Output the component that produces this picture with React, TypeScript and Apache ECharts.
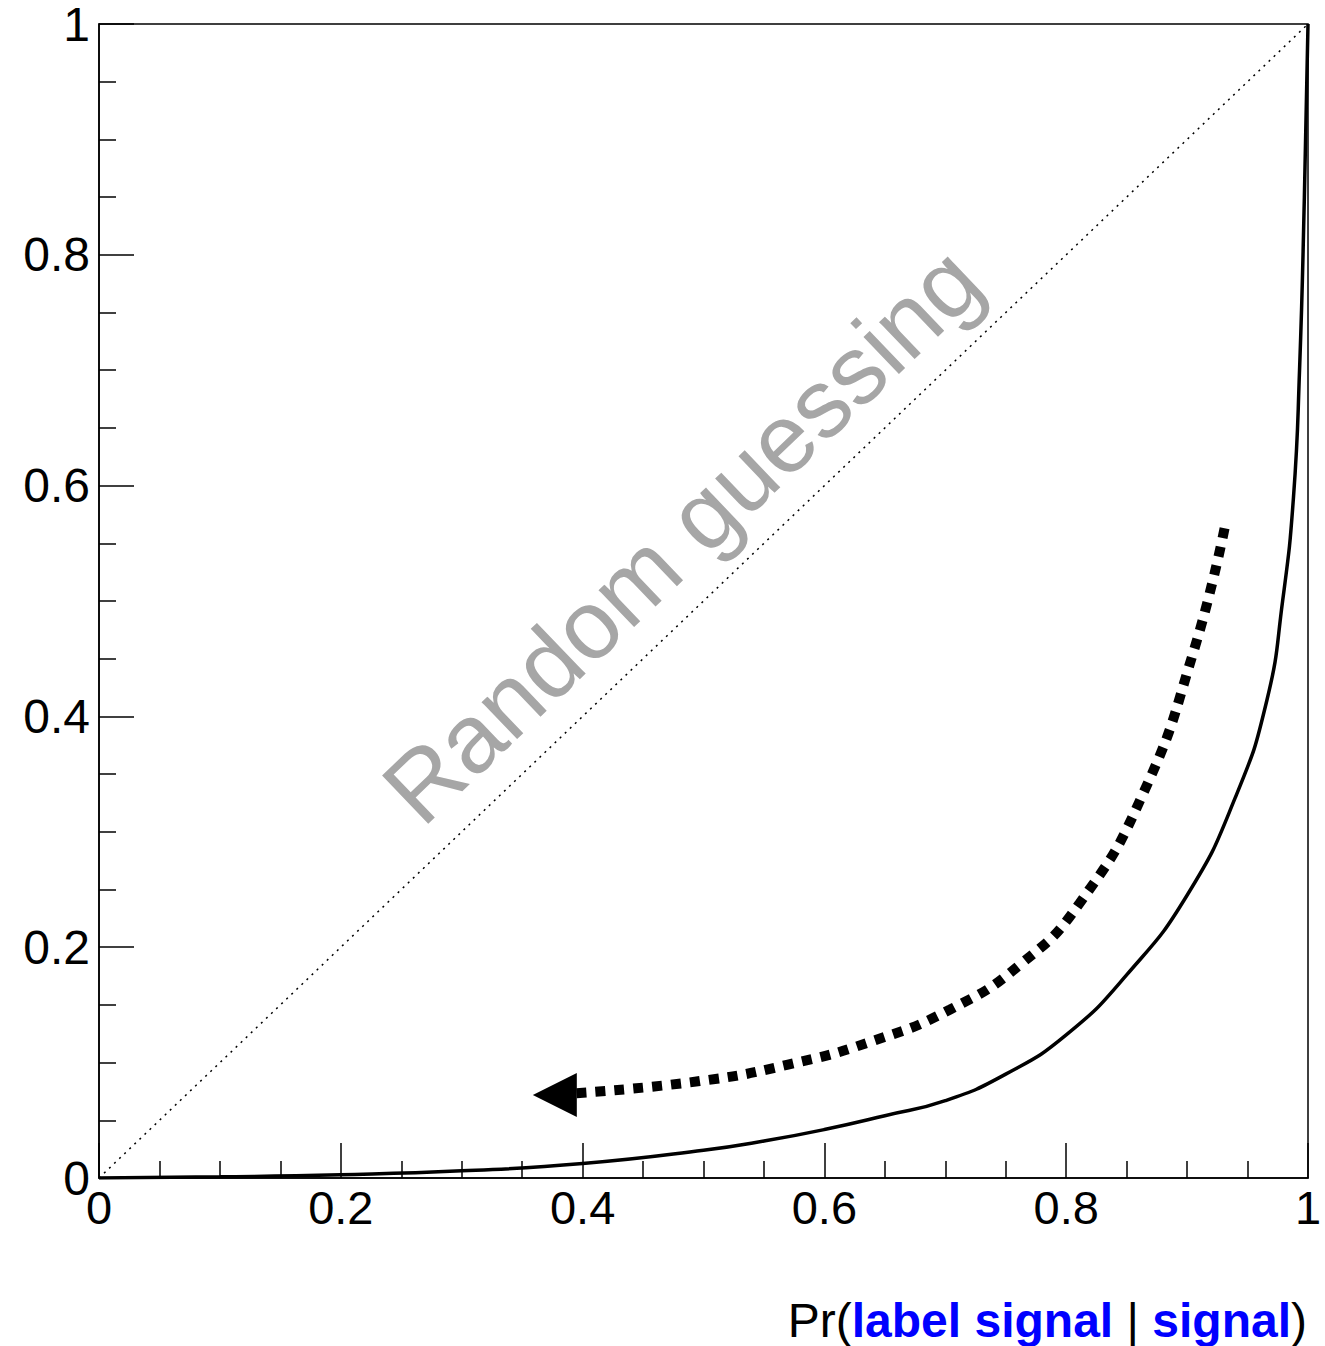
import React, { useEffect, useRef } from "react";
import * as echarts from "echarts";

const rocX = [0, 0.1, 0.2, 0.3, 0.4, 0.5, 0.55, 0.6, 0.65, 0.7, 0.75, 0.8, 0.85, 0.9, 0.94, 0.966, 0.979, 0.988, 0.993, 0.997, 1];
const rocY = [0, 0.001, 0.0028, 0.0062, 0.0125, 0.024, 0.032, 0.042, 0.054, 0.067, 0.09, 0.124, 0.176, 0.245, 0.33, 0.414, 0.5, 0.59, 0.7, 0.85, 1];

const arrowX = [0.931, 0.905, 0.864, 0.811, 0.762, 0.704, 0.638, 0.569, 0.497, 0.395];
const arrowY = [0.563, 0.455, 0.334, 0.238, 0.185, 0.146, 0.118, 0.098, 0.084, 0.0735];
const arrowHead = [0.377, 0.072];

const diagonal = [[0, 0], [1, 1]];

const FONT = "'Liberation Sans', Arial, Helvetica, sans-serif";

export default function App() {
  const ref = useRef<HTMLDivElement>(null);
  useEffect(() => {
    if (!ref.current) return;
    const chart = echarts.init(ref.current, null, { renderer: "svg" });
    const axisCommon = {
      type: "value" as const,
      min: 0,
      max: 1,
      interval: 0.2,
      axisLine: { show: true, onZero: false, lineStyle: { color: "#000", width: 1.5 } },
      axisTick: { show: true, inside: true, length: 35, lineStyle: { color: "#000", width: 1.5 } },
      minorTick: { show: true, splitNumber: 4, length: 17, lineStyle: { color: "#000", width: 1.5 } },
      splitLine: { show: false },
      minorSplitLine: { show: false },
    };
    chart.setOption({
      animation: false,
      backgroundColor: "#fff",
      grid: {
        left: 99,
        top: 24,
        right: 17,
        bottom: 168,
        show: true,
        borderColor: "#000",
        borderWidth: 1.5,
        backgroundColor: "transparent",
      },
      xAxis: {
        ...axisCommon,
        axisLabel: {
          fontSize: 47,
          color: "#000",
          fontFamily: FONT,
          margin: 6,
          formatter: (v: number) => String(Math.round(v * 10) / 10),
        },
      },
      yAxis: {
        ...axisCommon,
        axisLabel: {
          fontSize: 48,
          lineHeight: 40,
          padding: [4, 0, 0, 0],
          color: "#000",
          fontFamily: FONT,
          margin: 9,
          formatter: (v: number) => String(Math.round(v * 10) / 10),
        },
      },
      series: [
        {
          type: "line",
          data: diagonal,
          symbol: "none",
          lineStyle: { color: "#000", width: 1.5, type: [2, 5] },
          z: 2,
        },
        {
          type: "line",
          data: rocX.map((x, i) => [x, rocY[i]]),
          symbol: "none",
          smooth: 0.5,
          lineStyle: { color: "#000", width: 3.5 },
          z: 3,
        },
        {
          type: "line",
          data: arrowX.map((x, i) => [x, arrowY[i]]),
          symbol: "none",
          smooth: 0.5,
          lineStyle: { color: "#000", width: 10, type: [10, 9], cap: "butt" },
          z: 4,
        },
        {
          type: "scatter",
          data: [arrowHead],
          symbol: "triangle",
          symbolRotate: 90,
          symbolSize: [44, 44],
          itemStyle: { color: "#000", opacity: 1 },
          z: 5,
        },
      ],
      graphic: [
        {
          type: "text",
          x: 682,
          y: 535,
          rotation: (43.7 * Math.PI) / 180,
          style: {
            text: "Random guessing",
            fontSize: 97,
            fontFamily: FONT,
            fill: "#a6a6a6",
            textAlign: "center",
            textVerticalAlign: "middle",
          },
          z: 10,
        },
        {
          type: "text",
          x: 1307,
          y: 1320,
          style: {
            text: "Pr({b|label signal} | {b|signal})",
            fontSize: 48,
            fontFamily: FONT,
            fill: "#000",
            textAlign: "right",
            textVerticalAlign: "middle",
            rich: {
              b: { fontSize: 48, fontFamily: FONT, fontWeight: "bold", fill: "#0000ff" },
            },
          },
          z: 10,
        },
      ],
    });
    return () => chart.dispose();
  }, []);
  return (
    <div
      ref={ref}
      style={{ position: "absolute", left: 0, top: 0, width: 1325, height: 1346 }}
    />
  );
}
